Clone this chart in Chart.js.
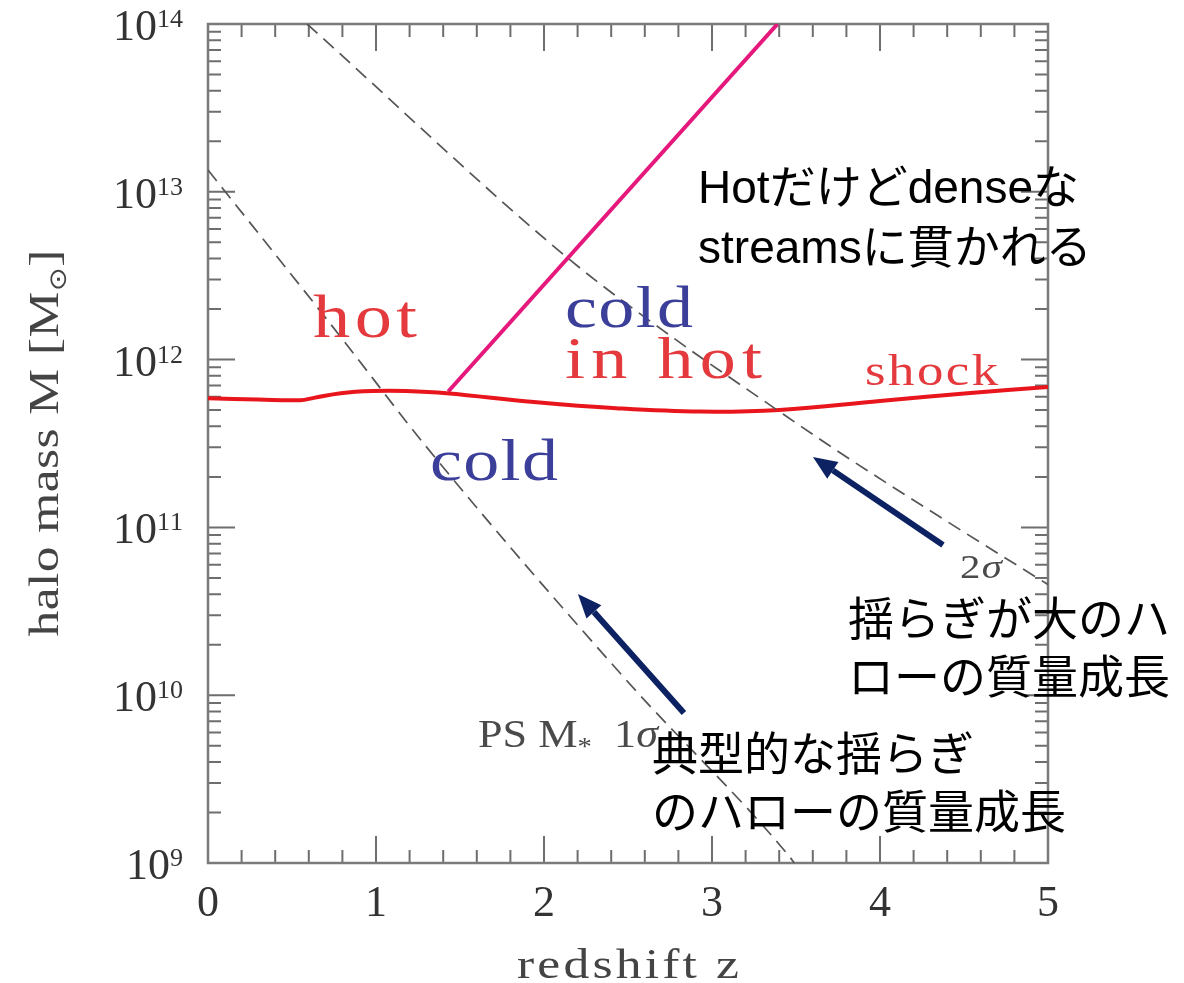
<!DOCTYPE html>
<html>
<head>
<meta charset="utf-8">
<script src="https://cdn.jsdelivr.net/npm/chart.js@4.4.1/dist/chart.umd.min.js"></script>
<style>
  html, body { margin: 0; padding: 0; background: #ffffff; }
  #wrap { width: 1184px; height: 983px; }
</style>
</head>
<body>
<div id="wrap"><canvas id="c" width="1184" height="983"></canvas></div>
<script>
// Redshift z and log10 of halo mass (M_sun) for each curve
const shockZ    = [0, 0.3, 0.55, 0.63, 0.79, 0.98, 1.18, 1.42, 1.94, 2.43, 2.93, 3.4, 4.0, 4.52, 5.0];
const shockLogM = [11.77, 11.762, 11.758, 11.772, 11.80, 11.813, 11.813, 11.80, 11.747, 11.71, 11.69, 11.70, 11.753, 11.80, 11.837];

const streamZ    = [1.43, 3.39];
const streamLogM = [11.81, 14.0];

const oneSigmaZ    = [0, 0.79, 1.30, 2.49, 3.46, 3.49];
const oneSigmaLogM = [13.13, 12.135, 11.48, 10.09, 9.04, 9.0];

const twoSigmaZ    = [0.59, 2.155, 2.762, 3.363, 3.72, 4.357, 4.935, 5.0];
const twoSigmaLogM = [14.0, 12.594, 12.135, 11.717, 11.473, 11.062, 10.70, 10.66];

// Axis ticks
const zTickLabels = ['0', '1', '2', '3', '4', '5'];
const massExponents = [9, 10, 11, 12, 13, 14];

const toPoints = (zs, lgs) => zs.map((z, i) => ({ x: z, y: Math.pow(10, lgs[i]) }));

const SERIF = '"Liberation Serif", "DejaVu Serif", serif';
const SANS_JP = '"Liberation Sans", "Noto Sans CJK JP", sans-serif';

// Draws a row of text runs (optionally super/subscripted); when a width is given the
// row is widened with a moderate stretch plus a little letter spacing.
function drawRuns(ctx, runs, x, y, opts) {
  ctx.save();
  ctx.translate(x, y);
  if (opts.rotate) ctx.rotate(-Math.PI / 2);
  const glyphs = [];
  let total = 0;
  runs.forEach(r => {
    const font = (r.italic ? 'italic ' : '') + r.size + 'px ' + (r.family || opts.family);
    ctx.font = font;
    for (const ch of r.t) {
      const w = ctx.measureText(ch).width;
      glyphs.push({ ch, w, font, dy: r.dy || 0 });
      total += w;
    }
  });
  let s = 1, gap = 0;
  if (opts.width) {
    s = Math.min(opts.width / total, opts.maxStretch || 1.2);
    gap = glyphs.length > 1 ? (opts.width - total * s) / (glyphs.length - 1) / s : 0;
  }
  const full = total + gap * (glyphs.length - 1);
  ctx.scale(s, 1);
  ctx.fillStyle = opts.color;
  ctx.textAlign = 'left';
  ctx.textBaseline = opts.baseline || 'alphabetic';
  let cx = 0;
  if (opts.align === 'center') cx = -full / 2;
  if (opts.align === 'right') cx = -full;
  glyphs.forEach(g => {
    ctx.font = g.font;
    ctx.fillText(g.ch, cx, g.dy);
    cx += g.w + gap;
  });
  ctx.restore();
}

const frameAndTicks = {
  id: 'frameAndTicks',
  beforeDatasetsDraw(chart) {
    const { ctx, chartArea: a, scales: { x, y } } = chart;
    ctx.save();
    ctx.strokeStyle = '#6e6e6e';
    ctx.lineWidth = 2;
    ctx.beginPath();
    // redshift ticks, bottom and top, pointing inward
    for (let i = 0; i <= 25; i++) {
      const px = x.getPixelForValue(i * 0.2);
      const len = i % 5 === 0 ? 27 : 13;
      ctx.moveTo(px, a.bottom); ctx.lineTo(px, a.bottom - len);
      ctx.moveTo(px, a.top); ctx.lineTo(px, a.top + len);
    }
    // mass ticks, left and right, pointing inward
    for (let d = 9; d <= 14; d++) {
      for (let k = 1; k <= 9; k++) {
        if (d === 14 && k > 1) break;
        const py = y.getPixelForValue(k * Math.pow(10, d));
        const len = k === 1 ? 27 : 13;
        ctx.moveTo(a.left, py); ctx.lineTo(a.left + len, py);
        ctx.moveTo(a.right, py); ctx.lineTo(a.right - len, py);
      }
    }
    ctx.stroke();
    ctx.strokeStyle = '#7a7a7a';
    ctx.lineWidth = 2.5;
    ctx.strokeRect(a.left, a.top, a.right - a.left, a.bottom - a.top);

    // tick labels
    zTickLabels.forEach((t, i) => {
      drawRuns(ctx, [{ t, size: 44 }], x.getPixelForValue(i), a.bottom + 53,
        { family: SERIF, color: '#333333', align: 'center' });
    });
    massExponents.forEach(e => {
      const py = y.getPixelForValue(Math.pow(10, e));
      drawRuns(ctx, [
        { t: '10', size: 44 },
        { t: String(e), size: 26, dy: -13 }
      ], a.left - 25, py + 16, { family: SERIF, color: '#333333', align: 'right' });
    });

    // axis titles
    drawRuns(ctx, [{ t: 'redshift z', size: 43 }], (a.left + a.right) / 2, 978,
      { family: SERIF, color: '#444444', align: 'center', width: 222 });
    drawRuns(ctx, [
      { t: 'halo mass M [M', size: 43 },
      { t: '\u2299', size: 24, dy: 8, family: '"DejaVu Sans", sans-serif' },
      { t: ']', size: 43 }
    ], 58, 443, { family: SERIF, color: '#444444', align: 'center', width: 387, rotate: true });
    ctx.restore();
  }
};

// Region names, curve labels, notes and arrows, positioned in (z, log10 M)
const annotations = {
  id: 'annotations',
  afterDatasetsDraw(chart) {
    const { ctx, scales: { x, y } } = chart;
    const P = (z, lg) => [x.getPixelForValue(z), y.getPixelForValue(Math.pow(10, lg))];
    const RED = '#e4393d', BLUE = '#3b3f99', GREY = '#4a4a4a';

    const serif = (text, z, lg, size, width, color) => {
      const [px, py] = P(z, lg);
      drawRuns(ctx, [{ t: text, size }], px, py, { family: SERIF, color, width });
    };
    serif('hot', 0.625, 12.135, 62, 104, RED);
    serif('cold', 2.125, 12.194, 60, 128, BLUE);
    serif('in hot', 2.125, 11.890, 60, 197, RED);
    serif('cold', 1.321, 11.283, 60, 128, BLUE);
    serif('shock', 3.911, 11.849, 44, 133, RED);

    let [px, py] = P(4.476, 10.699);
    drawRuns(ctx, [{ t: '2', size: 34 }, { t: '\u03c3', size: 34, italic: true }], px, py,
      { family: SERIF, color: GREY, width: 42 });
    [px, py] = P(1.607, 9.691);
    drawRuns(ctx, [
      { t: 'PS M', size: 40 },
      { t: '*', size: 26, dy: 8 },
      { t: '  1', size: 40 },
      { t: '\u03c3', size: 40, italic: true }
    ], px, py, { family: SERIF, color: GREY, width: 180 });

    // Japanese notes
    const jp = (text, z, lg) => {
      const [tx, ty] = P(z, lg);
      ctx.save();
      ctx.font = '46px ' + SANS_JP;
      ctx.fillStyle = '#000000';
      ctx.textAlign = 'left';
      ctx.textBaseline = 'middle';
      ctx.fillText(text, tx, ty);
      ctx.restore();
    };
    jp('Hotだけどdenseな', 2.917, 13.011);
    jp('streamsに貫かれる', 2.917, 12.653);
    jp('揺らぎが大のハ', 3.810, 10.436);
    jp('ローの質量成長', 3.810, 10.090);
    jp('典型的な揺らぎ', 2.643, 9.632);
    jp('のハローの質量成長', 2.643, 9.286);

    // arrows pointing at the two growth tracks
    const arrow = (z0, lg0, z1, lg1) => {
      const [x0, y0] = P(z0, lg0);
      const [x1, y1] = P(z1, lg1);
      const ang = Math.atan2(y1 - y0, x1 - x0);
      const head = 24, half = 10;
      const bx = x1 - head * Math.cos(ang), by = y1 - head * Math.sin(ang);
      ctx.save();
      ctx.strokeStyle = '#0c2262';
      ctx.fillStyle = '#0c2262';
      ctx.lineWidth = 6;
      ctx.beginPath();
      ctx.moveTo(x0, y0);
      ctx.lineTo(bx, by);
      ctx.stroke();
      ctx.beginPath();
      ctx.moveTo(x1, y1);
      ctx.lineTo(bx + half * Math.sin(ang), by - half * Math.cos(ang));
      ctx.lineTo(bx - half * Math.sin(ang), by + half * Math.cos(ang));
      ctx.closePath();
      ctx.fill();
      ctx.restore();
    };
    arrow(4.375, 10.895, 3.601, 11.42);
    arrow(2.833, 9.894, 2.202, 10.603);
  }
};

new Chart(document.getElementById('c'), {
  type: 'line',
  data: {
    datasets: [
      {
        label: '1σ',
        data: toPoints(oneSigmaZ, oneSigmaLogM),
        borderColor: '#555555', borderWidth: 1.7, borderDash: [14, 8],
        pointRadius: 0, cubicInterpolationMode: 'monotone', fill: false
      },
      {
        label: '2σ',
        data: toPoints(twoSigmaZ, twoSigmaLogM),
        borderColor: '#555555', borderWidth: 1.7, borderDash: [14, 8],
        pointRadius: 0, cubicInterpolationMode: 'monotone', fill: false
      },
      {
        label: 'shock',
        data: toPoints(shockZ, shockLogM),
        borderColor: '#e8161c', borderWidth: 4,
        pointRadius: 0, tension: 0.4, fill: false
      },
      {
        label: 'streams',
        data: toPoints(streamZ, streamLogM),
        borderColor: '#e5187c', borderWidth: 4,
        pointRadius: 0, tension: 0, fill: false
      }
    ]
  },
  options: {
    responsive: false,
    animation: false,
    devicePixelRatio: 1,
    layout: { padding: { left: 208, right: 136, top: 24, bottom: 120 } },
    plugins: { legend: { display: false }, tooltip: { enabled: false } },
    scales: {
      x: { type: 'linear', min: 0, max: 5, display: false },
      y: { type: 'logarithmic', min: 1e9, max: 1e14, display: false }
    }
  },
  plugins: [frameAndTicks, annotations]
});
</script>
</body>
</html>
